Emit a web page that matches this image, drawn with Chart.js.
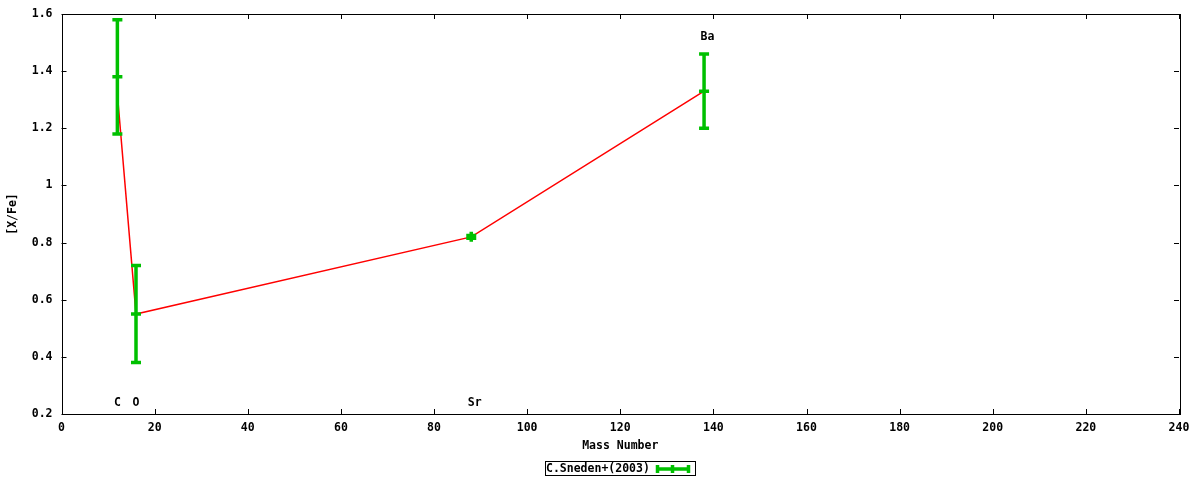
<!DOCTYPE html>
<html>
<head>
<meta charset="utf-8">
<script src="https://cdn.jsdelivr.net/npm/chart.js@4"></script>
<style>
  html, body { margin: 0; padding: 0; background: #fff; }
  #wrap { width: 1200px; height: 480px; }
</style>
</head>
<body>
<div id="wrap"><canvas id="myChart"></canvas></div>
<script>
// observed abundances (Sneden+ 2003)
var obsMass = [12, 16, 88, 138];
var obsValue = [1.38, 0.55, 0.82, 1.33];
var obsErr = [0.20, 0.17, 0.005, 0.13];

// red model line
var lineMass = [12, 16, 88, 138];
var lineValue = [1.32, 0.55, 0.82, 1.33];

// element labels
var elemNames = ['C', 'O', 'Sr', 'Ba'];
var elemX = [12, 16, 88, 138];
var elemY = [0.24, 0.24, 0.24, 1.52];

var xTicks = [0, 240, 20];   // min, max, step
var yTicks = [0.2, 1.6, 0.2];

var legendLabel = 'C.Sneden+(2003)';

var FONT = 'bold 11.5px "DejaVu Sans Mono", monospace';
var tickFont = { family: '"DejaVu Sans Mono", monospace', size: 11.5, weight: 'bold' };
var GREEN = '#00c000';

document.addEventListener('DOMContentLoaded', function () {
    var ctx = document.getElementById('myChart').getContext('2d');

    var gnuplotLook = {
        id: 'gnuplotLook',
        beforeDatasetsDraw: function (chart) {
            var c = chart.ctx, a = chart.chartArea;
            var xs = chart.scales.x, ys = chart.scales.y;
            c.save();
            c.strokeStyle = '#000';
            c.lineWidth = 1;
            c.beginPath();
            // inward ticks, bottom and top
            xs.ticks.forEach(function (t) {
                var px = Math.round(xs.getPixelForValue(t.value)) + 0.5;
                c.moveTo(px, a.bottom); c.lineTo(px, a.bottom - 5);
                c.moveTo(px, a.top); c.lineTo(px, a.top + 5);
            });
            ys.ticks.forEach(function (t) {
                var py = Math.round(ys.getPixelForValue(t.value)) + 0.5;
                c.moveTo(a.left, py); c.lineTo(a.left + 5, py);
                c.moveTo(a.right, py); c.lineTo(a.right - 5, py);
            });
            c.stroke();
            c.strokeRect(Math.round(a.left) + 0.5, Math.round(a.top) + 0.5,
                Math.round(a.right - a.left), Math.round(a.bottom - a.top));
            c.restore();
        },
        afterDatasetsDraw: function (chart) {
            var c = chart.ctx;
            var xs = chart.scales.x, ys = chart.scales.y;
            c.save();
            // error bars
            c.strokeStyle = GREEN;
            c.lineWidth = 3.5;
            c.lineCap = 'butt';
            for (var i = 0; i < obsMass.length; i++) {
                var px = xs.getPixelForValue(obsMass[i]);
                var pHi = ys.getPixelForValue(obsValue[i] + obsErr[i]);
                var pLo = ys.getPixelForValue(obsValue[i] - obsErr[i]);
                var pMid = ys.getPixelForValue(obsValue[i]);
                c.beginPath();
                c.moveTo(px, Math.min(pHi - 1.5, pMid - 5)); c.lineTo(px, Math.max(pLo + 1.5, pMid + 5));
                c.moveTo(px - 5, pHi); c.lineTo(px + 5, pHi);
                c.moveTo(px - 5, pLo); c.lineTo(px + 5, pLo);
                c.moveTo(px - 5, pMid); c.lineTo(px + 5, pMid);
                c.stroke();
            }
            // element labels
            c.fillStyle = '#000';
            c.font = FONT;
            c.textAlign = 'left';
            c.textBaseline = 'middle';
            for (var j = 0; j < elemNames.length; j++) {
                c.fillText(elemNames[j], xs.getPixelForValue(elemX[j]) - 3.5, ys.getPixelForValue(elemY[j]));
            }
            // legend box
            var lx = 545.5, ly = 461.5, lw = 150, lh = 14;
            c.strokeStyle = '#000';
            c.lineWidth = 1;
            c.strokeRect(lx, ly, lw, lh);
            c.fillText(legendLabel, 546, 469);
            c.strokeStyle = GREEN;
            c.lineWidth = 3.5;
            c.beginPath();
            c.moveTo(656, 469); c.lineTo(690, 469);
            c.moveTo(657.5, 465); c.lineTo(657.5, 473);
            c.moveTo(688.5, 465); c.lineTo(688.5, 473);
            c.moveTo(672.5, 465); c.lineTo(672.5, 473);
            c.stroke();
            c.restore();
        }
    };

    var myChart = new Chart(ctx, {
        type: 'scatter',
        data: {
            datasets: [{
                label: 'model',
                data: lineMass.map(function (m, i) { return { x: m, y: lineValue[i] }; }),
                showLine: true,
                borderColor: '#ff0000',
                borderWidth: 1.5,
                pointRadius: 0,
                tension: 0
            }, {
                label: legendLabel,
                data: obsMass.map(function (m, i) { return { x: m, y: obsValue[i] }; }),
                pointRadius: 0,
                borderColor: GREEN
            }]
        },
        options: {
            responsive: true,
            maintainAspectRatio: false,
            animation: false,
            layout: { padding: { left: 0, right: 21, top: 14, bottom: 0 } },
            scales: {
                x: {
                    type: 'linear',
                    min: xTicks[0], max: xTicks[1],
                    ticks: { stepSize: xTicks[2], color: '#000', font: tickFont, padding: 7, maxRotation: 0 },
                    grid: { display: false, drawTicks: false },
                    border: { display: false },
                    title: { display: true, text: 'Mass Number', color: '#000', font: tickFont, padding: { top: 0, bottom: 27 } },
                    afterFit: function (scale) { scale.height = 66; scale.paddingLeft = 0; scale.paddingRight = 0; }
                },
                y: {
                    min: yTicks[0], max: yTicks[1],
                    ticks: {
                        stepSize: yTicks[2], color: '#000', padding: 9,
                        font: tickFont,
                        callback: function (v) { return String(+v.toFixed(1)); }
                    },
                    grid: { display: false, drawTicks: false },
                    border: { display: false },
                    title: { display: true, text: '[X/Fe]', color: '#000', font: tickFont, padding: { top: 6, bottom: 0 } },
                    afterFit: function (scale) { scale.width = 61.5; scale.paddingTop = 0; scale.paddingBottom = 0; }
                }
            },
            plugins: {
                legend: { display: false },
                tooltip: { enabled: false }
            }
        },
        plugins: [gnuplotLook]
    });
});
</script>
</body>
</html>
